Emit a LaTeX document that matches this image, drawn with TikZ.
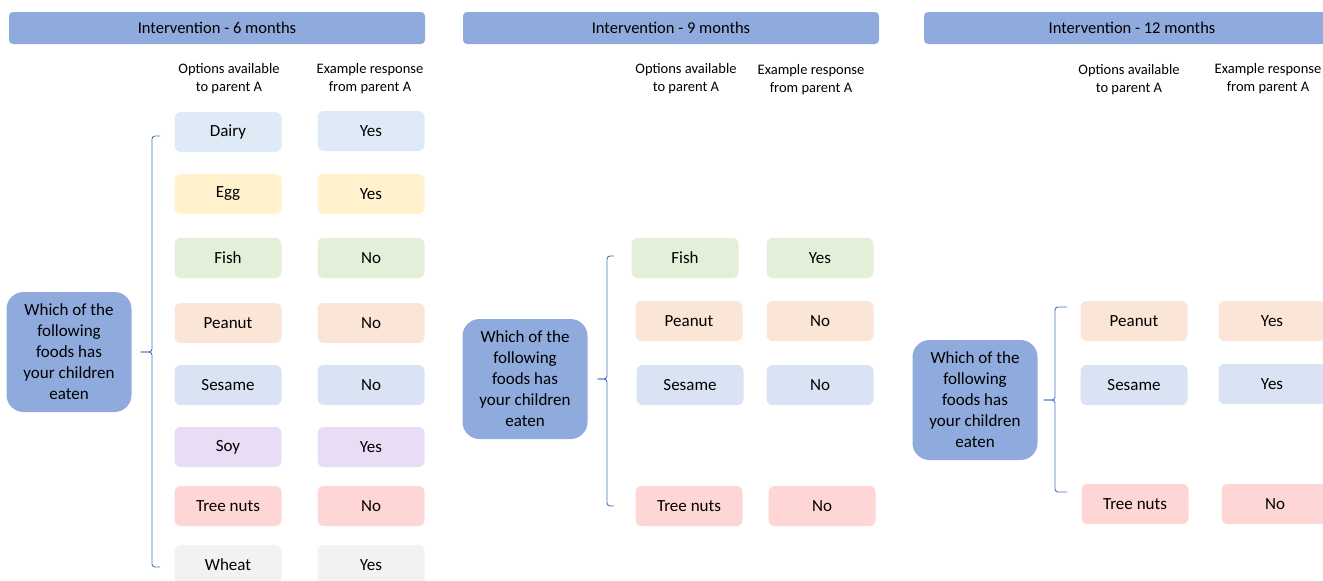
\documentclass[tikz,border=0pt]{standalone}
\usepackage{fontspec}
\setmainfont{Carlito}
\usepackage{xcolor}
\definecolor{header}{RGB}{143,170,220}
\definecolor{bracketblue}{RGB}{68,114,196}
\definecolor{dairy}{RGB}{222,235,247}
\definecolor{egg}{RGB}{255,242,204}
\definecolor{fish}{RGB}{226,240,217}
\definecolor{peanut}{RGB}{251,229,214}
\definecolor{sesame}{RGB}{218,227,243}
\definecolor{soy}{RGB}{232,221,244}
\definecolor{treenut}{RGB}{255,214,214}
\definecolor{wheat}{RGB}{242,242,242}
\tikzstyle{bar}=[fill=header, rounded corners=4pt, minimum width=416pt, minimum height=32pt, inner sep=0pt, font=\fontsize{16.5}{20}\selectfont]
\tikzstyle{question}=[fill=header, rounded corners=17pt, minimum width=125pt, minimum height=120pt, inner sep=0pt, align=center, font=\fontsize{17}{21}\selectfont]
\tikzstyle{item}=[rounded corners=6pt, minimum width=107pt, minimum height=40pt, inner sep=0pt, font=\fontsize{17}{20}\selectfont]
\tikzstyle{colhead}=[align=center, inner sep=0pt, font=\fontsize{14.5}{18}\selectfont]
\tikzstyle{bracket}=[draw=bracketblue, line width=0.9pt, rounded corners=3pt]

\begin{document}
\begin{tikzpicture}[x=1pt,y=-1pt]
  \useasboundingbox (0,0) rectangle (1323,581);
  %% 6 months
  \draw (217,28) node[bar] (H1) {Intervention - 6 months};
  \draw (229,79) node[colhead] (C11) {Options available\\to parent A};
  \draw (370,79) node[colhead] (C12) {Example response\\from parent A};
  \draw (69,352) node[question] (Q1) {Which of the\\following\\foods has\\your children\\eaten};

  \draw (228,132) node[item,fill=dairy] (A11) {Dairy};
  \draw (228,194) node[item,fill=egg] (A12) {Egg};
  \draw (228,258) node[item,fill=fish] (A13) {Fish};
  \draw (228,323) node[item,fill=peanut] (A14) {Peanut};
  \draw (228,385) node[item,fill=sesame] (A15) {Sesame};
  \draw (228,447) node[item,fill=soy] (A16) {Soy};
  \draw (228,506) node[item,fill=treenut] (A17) {Tree nuts};
  \draw (228,565) node[item,fill=wheat] (A18) {Wheat};

  \draw (371,131) node[item,fill=dairy] (R11) {Yes};
  \draw (371,194) node[item,fill=egg] (R12) {Yes};
  \draw (371,258) node[item,fill=fish] (R13) {No};
  \draw (371,323) node[item,fill=peanut] (R14) {No};
  \draw (371,385) node[item,fill=sesame] (R15) {No};
  \draw (371,447) node[item,fill=soy] (R16) {Yes};
  \draw (371,506) node[item,fill=treenut] (R17) {No};
  \draw (371,565) node[item,fill=wheat] (R18) {Yes};

  \draw[bracket] ([xshift=9pt]Q1.east) -| (152,136) -- (160,136);
  \draw[bracket] ([xshift=9pt]Q1.east) -| (152,567) -- (160,567);

  %% 9 months
  \draw (671,28) node[bar] (H2) {Intervention - 9 months};
  \draw (686,79) node[colhead] (C21) {Options available\\to parent A};
  \draw (811,80) node[colhead] (C22) {Example response\\from parent A};
  \draw (525,379) node[question] (Q2) {Which of the\\following\\foods has\\your children\\eaten};

  \draw (685,258) node[item,fill=fish] (A21) {Fish};
  \draw (689,321) node[item,fill=peanut] (A22) {Peanut};
  \draw (690,385) node[item,fill=sesame] (A23) {Sesame};
  \draw (689,506) node[item,fill=treenut] (A24) {Tree nuts};

  \draw (820,258) node[item,fill=fish] (R21) {Yes};
  \draw (820,321) node[item,fill=peanut] (R22) {No};
  \draw (820,385) node[item,fill=sesame] (R23) {No};
  \draw (822,506) node[item,fill=treenut] (R24) {No};

  \draw[bracket] ([xshift=10pt]Q2.east) -| (607,256) -- (614,256);
  \draw[bracket] ([xshift=10pt]Q2.east) -| (607,506) -- (614,506);

  %% 12 months
  \draw (1132,28) node[bar] (H3) {Intervention - 12 months};
  \draw (1129,80) node[colhead] (C31) {Options available\\to parent A};
  \draw (1268,79) node[colhead] (C32) {Example response\\from parent A};
  \draw (975,400) node[question] (Q3) {Which of the\\following\\foods has\\your children\\eaten};

  \draw (1134,321) node[item,fill=peanut] (A31) {Peanut};
  \draw (1134,385) node[item,fill=sesame] (A32) {Sesame};
  \draw (1135,504) node[item,fill=treenut] (A33) {Tree nuts};

  \draw (1272,321) node[item,fill=peanut] (R31) {Yes};
  \draw (1272,384) node[item,fill=sesame] (R32) {Yes};
  \draw (1275,504) node[item,fill=treenut] (R33) {No};

  \draw[bracket] ([xshift=6pt]Q3.east) -| (1055,307) -- (1067,307);
  \draw[bracket] ([xshift=6pt]Q3.east) -| (1055,492) -- (1067,492);
\end{tikzpicture}
\end{document}
